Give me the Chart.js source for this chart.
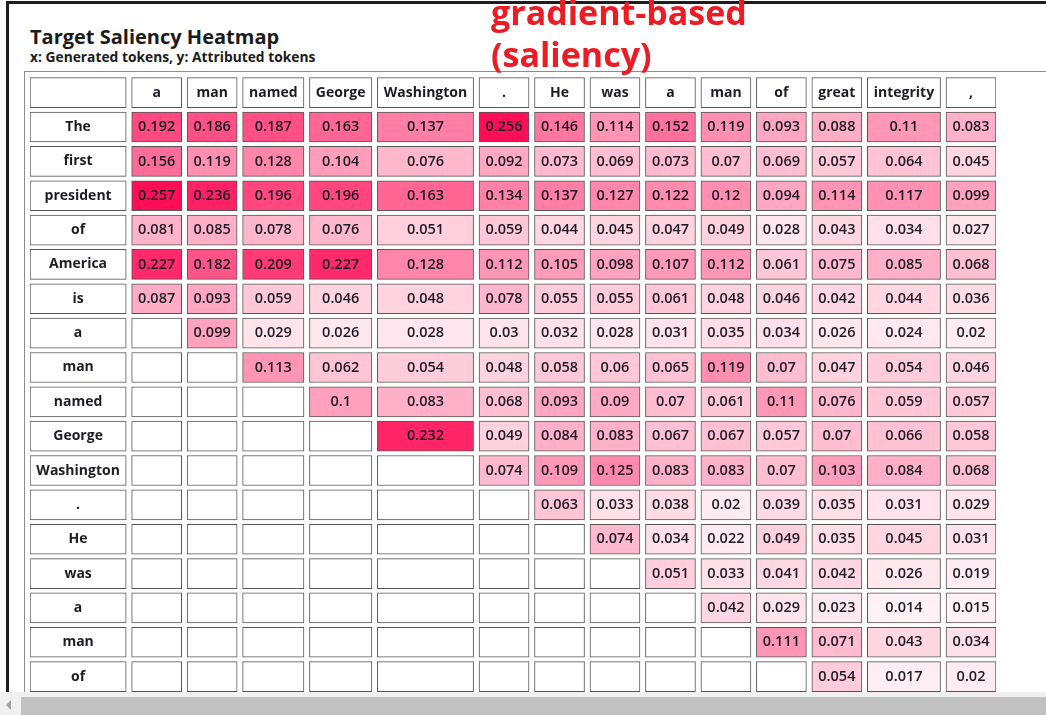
<!DOCTYPE html>
<html>
<head>
<meta charset="utf-8">
<title>Target Saliency Heatmap</title>
<script src="https://cdn.jsdelivr.net/npm/chart.js@4.4.1/dist/chart.umd.min.js"></script>
<style>
    html, body {
        margin: 0;
        padding: 0;
        width: 1046px;
        height: 715px;
        overflow: hidden;
        background: #fff;
        font-family: "Open Sans", "Noto Sans", sans-serif;
        color: #1b1b1b;
    }
    #frame {
        position: absolute;
        left: 6px;
        top: 1px;
        width: 1040px;
        height: 691px;
        border-top: 3px solid #1e1e1e;
        border-left: 3px solid #1e1e1e;
    }
    #title {
        position: absolute;
        left: 30px;
        top: 24px;
        font-size: 20px;
        line-height: 26px;
        font-weight: 700;
        white-space: nowrap;
    }
    #subtitle {
        position: absolute;
        left: 30px;
        top: 48px;
        font-size: 13.8px;
        line-height: 18px;
        font-weight: 700;
        white-space: nowrap;
    }
    #note {
        position: absolute;
        left: 491px;
        top: -9px;
        font-size: 34px;
        line-height: 42px;
        font-weight: 700;
        color: #ed1c24;
        white-space: nowrap;
    }
    #box {
        position: absolute;
        left: 24px;
        top: 71px;
        width: 1040px;
        height: 700px;
        border-top: 1px solid #8c8c8c;
        border-left: 1px solid #8c8c8c;
    }
    #wrap {
        position: absolute;
        left: 24px;
        top: 71px;
        width: 1022px;
        height: 623px;
    }
    #scroll {
        position: absolute;
        left: 0;
        top: 692px;
        width: 1046px;
        height: 23px;
        background: #f0f0f0;
    }
    #thumb {
        position: absolute;
        left: 21px;
        top: 5px;
        right: 0;
        height: 18px;
        background: #c1c1c1;
    }
    #arrow {
        position: absolute;
        left: 6px;
        top: 8px;
        width: 0;
        height: 0;
        border-top: 5px solid transparent;
        border-bottom: 5px solid transparent;
        border-right: 5px solid #a3a3a3;
    }
</style>
</head>
<body>
<div id="frame"></div>
<div id="title">Target Saliency Heatmap</div>
<div id="subtitle">x: Generated tokens, y: Attributed tokens</div>
<div id="box"></div>
<div id="wrap"><canvas id="heatmap"></canvas></div>
<div id="note">gradient-based<br>(saliency)</div>
<div id="scroll"><div id="arrow"></div><div id="thumb"></div></div>

<script>
// ==============================
// Data
// ==============================
const generatedTokens = ["a", "man", "named", "George", "Washington", ".", "He", "was", "a", "man", "of", "great", "integrity", ","];
const attributedTokens = ["The", "first", "president", "of", "America", "is", "a", "man", "named", "George", "Washington", ".", "He", "was", "a", "man", "of"];

// one row per attributed token, one value per generated token (null = empty cell)
const saliency = [
    [0.192, 0.186, 0.187, 0.163, 0.137, 0.256, 0.146, 0.114, 0.152, 0.119, 0.093, 0.088, 0.11, 0.083],
    [0.156, 0.119, 0.128, 0.104, 0.076, 0.092, 0.073, 0.069, 0.073, 0.07, 0.069, 0.057, 0.064, 0.045],
    [0.257, 0.236, 0.196, 0.196, 0.163, 0.134, 0.137, 0.127, 0.122, 0.12, 0.094, 0.114, 0.117, 0.099],
    [0.081, 0.085, 0.078, 0.076, 0.051, 0.059, 0.044, 0.045, 0.047, 0.049, 0.028, 0.043, 0.034, 0.027],
    [0.227, 0.182, 0.209, 0.227, 0.128, 0.112, 0.105, 0.098, 0.107, 0.112, 0.061, 0.075, 0.085, 0.068],
    [0.087, 0.093, 0.059, 0.046, 0.048, 0.078, 0.055, 0.055, 0.061, 0.048, 0.046, 0.042, 0.044, 0.036],
    [null, 0.099, 0.029, 0.026, 0.028, 0.03, 0.032, 0.028, 0.031, 0.035, 0.034, 0.026, 0.024, 0.02],
    [null, null, 0.113, 0.062, 0.054, 0.048, 0.058, 0.06, 0.065, 0.119, 0.07, 0.047, 0.054, 0.046],
    [null, null, null, 0.1, 0.083, 0.068, 0.093, 0.09, 0.07, 0.061, 0.11, 0.076, 0.059, 0.057],
    [null, null, null, null, 0.232, 0.049, 0.084, 0.083, 0.067, 0.067, 0.057, 0.07, 0.066, 0.058],
    [null, null, null, null, null, 0.074, 0.109, 0.125, 0.083, 0.083, 0.07, 0.103, 0.084, 0.068],
    [null, null, null, null, null, null, 0.063, 0.033, 0.038, 0.02, 0.039, 0.035, 0.031, 0.029],
    [null, null, null, null, null, null, null, 0.074, 0.034, 0.022, 0.049, 0.035, 0.045, 0.031],
    [null, null, null, null, null, null, null, null, 0.051, 0.033, 0.041, 0.042, 0.026, 0.019],
    [null, null, null, null, null, null, null, null, null, 0.042, 0.029, 0.023, 0.014, 0.015],
    [null, null, null, null, null, null, null, null, null, null, 0.111, 0.071, 0.043, 0.034],
    [null, null, null, null, null, null, null, null, null, null, null, 0.054, 0.017, 0.02]
];

// ==============================
// Table layout helpers
// ==============================
const FONT_BOLD = "700 14px 'Open Sans'";
const FONT_VALUE = "600 14.5px 'Open Sans'";
const CELL_PAD = 13;
const CELL_GAP = 5.5;

const measureCtx = document.createElement("canvas").getContext("2d");
function textWidth(txt, font) {
    measureCtx.font = font;
    return measureCtx.measureText(txt).width;
}

const rowLabels = [""].concat(attributedTokens);   // first row holds the column headers
const maxScore = Math.max(...saliency.flat().filter(v => v !== null));

// column 0 = attributed token labels, then one column per generated token
let columns = [];
let cursor = 0;
for (let c = 0; c <= generatedTokens.length; c++) {
    let texts;
    if (c === 0) {
        texts = rowLabels.slice();
    } else {
        texts = [generatedTokens[c - 1]].concat(saliency.map(row => row[c - 1] === null ? "" : String(row[c - 1])));
    }
    let w = 0;
    texts.forEach((t, r) => {
        let f = (r === 0 || c === 0) ? FONT_BOLD : FONT_VALUE;
        w = Math.max(w, textWidth(t, f));
    });
    w += CELL_PAD;
    columns.push({ texts: texts, start: cursor, end: cursor + w });
    cursor += w + CELL_GAP;
}
const tableWidth = cursor - CELL_GAP;

function cellColor(col, row) {
    if (col === 0 || row === 0) return "#ffffff";
    let v = saliency[row - 1][col - 1];
    if (v === null) return "#ffffff";
    let a = v / maxScore;
    let g = Math.round(255 - a * (255 - 13));
    let b = Math.round(255 - a * (255 - 87));
    return `rgb(255, ${g}, ${b})`;
}

// ==============================
// Cell text plugin
// ==============================
const cellText = {
    id: "cellText",
    afterDatasetsDraw(chart) {
        const ctx = chart.ctx;
        ctx.save();
        ctx.textAlign = "center";
        ctx.textBaseline = "middle";
        ctx.fillStyle = "#1c1c24";
        chart.data.datasets.forEach((ds, di) => {
            chart.getDatasetMeta(di).data.forEach((bar, ri) => {
                let txt = ds.cellTexts[ri];
                if (!txt) return;
                ctx.font = (ri === 0 || di === 0) ? FONT_BOLD : FONT_VALUE;
                ctx.fillText(txt, (bar.x + bar.base) / 2, bar.y);
            });
        });
        ctx.restore();
    }
};

// ==============================
// Render heatmap
// ==============================
document.addEventListener("DOMContentLoaded", function () {
    let ctx = document.getElementById("heatmap").getContext("2d");

    let datasets = columns.map((col, c) => ({
        label: c === 0 ? "tokens" : generatedTokens[c - 1],
        data: rowLabels.map(() => [col.start, col.end]),
        cellTexts: col.texts,
        backgroundColor: context => cellColor(c, context.dataIndex),
        borderColor: "#555555",
        borderWidth: 1,
        borderSkipped: false,
        barThickness: 30,
        grouped: false
    }));

    new Chart(ctx, {
        type: "bar",
        data: {
            labels: rowLabels,
            datasets: datasets
        },
        options: {
            indexAxis: "y",
            responsive: true,
            maintainAspectRatio: false,
            animation: false,
            events: [],
            layout: {
                padding: { left: 6, right: 50, top: 4.5, bottom: 0.2 }
            },
            scales: {
                x: { type: "linear", min: 0, max: tableWidth, display: false },
                y: { type: "category", display: false, offset: true }
            },
            plugins: {
                legend: { display: false },
                tooltip: { enabled: false }
            }
        },
        plugins: [cellText]
    });
});
</script>
</body>
</html>
